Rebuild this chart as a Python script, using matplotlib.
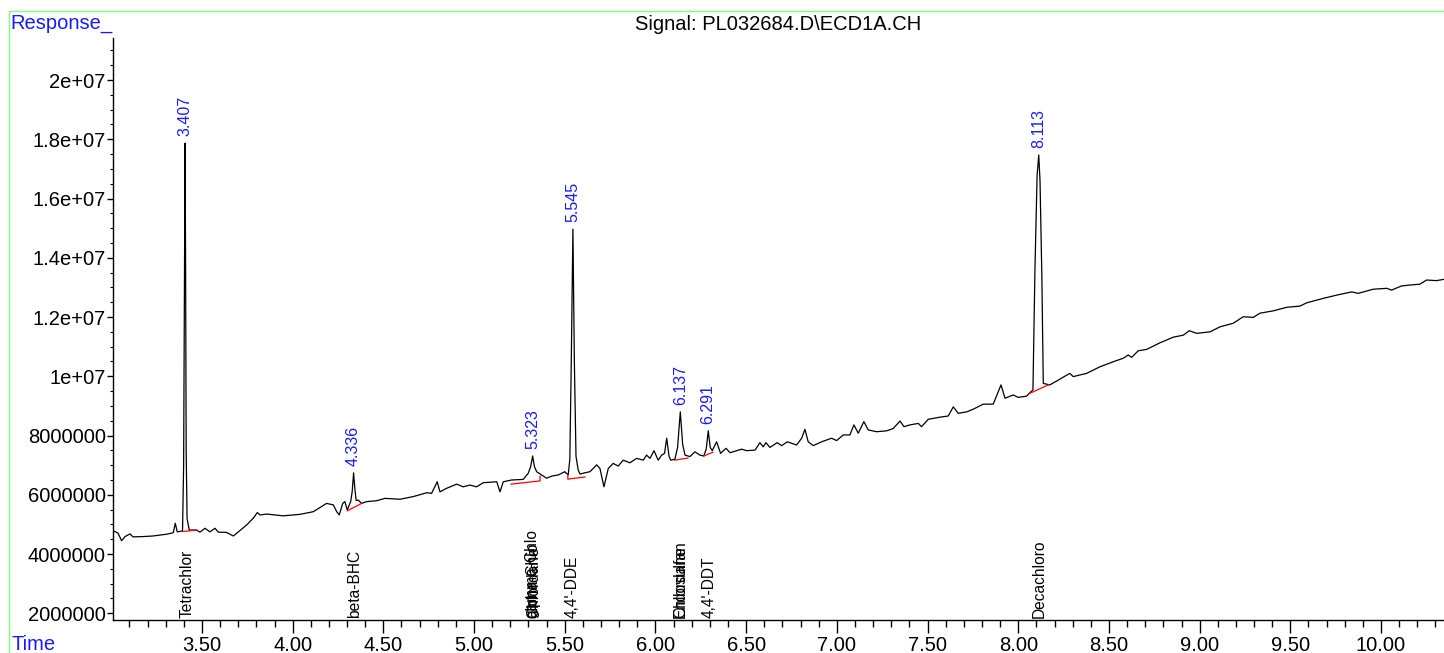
#!/usr/bin/env python3
"""
GC-ECD chromatogram: Signal PL032684.D\\ECD1A.CH
Trace, integration baselines, retention-time labels and compound names.
"""

import matplotlib
matplotlib.use("Agg")
import matplotlib.pyplot as plt
from matplotlib.lines import Line2D
from matplotlib.ticker import MultipleLocator, FuncFormatter
import matplotlib.transforms as mtransforms

plt.rcParams['font.family'] = ['Liberation Sans', 'DejaVu Sans']

# ---- data (time in min, response in counts / 1e6) ----
TIME = [
    3.008, 3.037, 3.057, 3.076, 3.103, 3.120, 3.175, 3.230, 3.305, 3.342,
    3.353, 3.364, 3.393, 3.399, 3.404, 3.407, 3.410, 3.413, 3.418, 3.430,
    3.471, 3.489, 3.517, 3.544, 3.572, 3.590, 3.636, 3.673, 3.691, 3.746,
    3.783, 3.805, 3.820, 3.857, 3.948, 4.040, 4.114, 4.187, 4.224, 4.243,
    4.257, 4.276, 4.288, 4.301, 4.320, 4.328, 4.336, 4.343, 4.350, 4.362,
    4.380, 4.408, 4.463, 4.509, 4.592, 4.665, 4.739, 4.766, 4.797, 4.812,
    4.849, 4.904, 4.940, 4.977, 5.014, 5.051, 5.125, 5.143, 5.161, 5.207,
    5.271, 5.299, 5.312, 5.323, 5.333, 5.345, 5.373, 5.400, 5.428, 5.464,
    5.500, 5.519, 5.528, 5.536, 5.545, 5.553, 5.562, 5.574, 5.584, 5.602,
    5.639, 5.676, 5.694, 5.716, 5.740, 5.767, 5.795, 5.822, 5.859, 5.896,
    5.933, 5.951, 5.970, 5.992, 6.015, 6.034, 6.050, 6.062, 6.075, 6.084,
    6.107, 6.122, 6.137, 6.150, 6.163, 6.190, 6.218, 6.245, 6.267, 6.280,
    6.291, 6.302, 6.313, 6.337, 6.359, 6.389, 6.411, 6.475, 6.503, 6.549,
    6.576, 6.594, 6.609, 6.631, 6.671, 6.696, 6.727, 6.778, 6.806, 6.824,
    6.842, 6.870, 6.916, 6.971, 6.999, 7.035, 7.072, 7.094, 7.118, 7.149,
    7.173, 7.219, 7.275, 7.311, 7.348, 7.370, 7.403, 7.449, 7.467, 7.504,
    7.568, 7.614, 7.642, 7.669, 7.716, 7.752, 7.807, 7.862, 7.905, 7.927,
    7.972, 8.000, 8.046, 8.065, 8.081, 8.092, 8.104, 8.113, 8.120, 8.130,
    8.138, 8.174, 8.220, 8.284, 8.303, 8.377, 8.450, 8.523, 8.579, 8.606,
    8.625, 8.661, 8.708, 8.781, 8.854, 8.910, 8.943, 8.983, 9.057, 9.112,
    9.185, 9.240, 9.296, 9.332, 9.406, 9.480, 9.553, 9.590, 9.681, 9.755,
    9.838, 9.874, 9.957, 10.031, 10.058, 10.113, 10.159, 10.214, 10.251, 10.306,
    10.343,
]
RESPONSE_M = [
    4.79, 4.71, 4.45, 4.59, 4.68, 4.58, 4.59, 4.61, 4.67, 4.72,
    5.04, 4.75, 4.78, 7.00, 14.00, 17.87, 13.50, 7.50, 5.20, 4.81,
    4.81, 4.74, 4.87, 4.75, 4.87, 4.74, 4.73, 4.61, 4.70, 4.98,
    5.21, 5.40, 5.32, 5.35, 5.29, 5.34, 5.43, 5.71, 5.66, 5.43,
    5.32, 5.71, 5.77, 5.49, 5.77, 6.10, 6.74, 6.20, 5.81, 5.82,
    5.71, 5.77, 5.80, 5.88, 5.85, 5.94, 6.07, 6.05, 6.44, 6.10,
    6.22, 6.36, 6.27, 6.33, 6.27, 6.41, 6.44, 6.10, 6.44, 6.50,
    6.52, 6.73, 6.95, 7.31, 6.95, 6.78, 6.67, 6.56, 6.63, 6.67,
    6.78, 6.67, 7.20, 10.50, 14.97, 10.50, 7.30, 6.84, 6.70, 6.73,
    6.78, 7.01, 6.89, 6.27, 6.89, 7.06, 6.97, 7.17, 7.08, 7.23,
    7.17, 7.34, 7.23, 7.49, 7.17, 7.34, 7.40, 7.91, 7.30, 7.17,
    7.20, 7.60, 8.80, 7.70, 7.34, 7.29, 7.45, 7.34, 7.31, 7.55,
    8.16, 7.60, 7.49, 7.79, 7.40, 7.57, 7.42, 7.54, 7.49, 7.51,
    7.76, 7.62, 7.76, 7.60, 7.76, 7.66, 7.79, 7.68, 7.91, 8.21,
    7.79, 7.66, 7.79, 7.91, 7.83, 8.02, 8.02, 8.36, 8.08, 8.47,
    8.19, 8.13, 8.16, 8.24, 8.49, 8.30, 8.36, 8.41, 8.30, 8.55,
    8.62, 8.66, 8.97, 8.75, 8.80, 8.89, 9.06, 9.06, 9.71, 9.26,
    9.37, 9.29, 9.33, 9.45, 9.54, 13.60, 16.80, 17.47, 16.60, 13.40,
    9.76, 9.71, 9.87, 10.10, 9.99, 10.10, 10.32, 10.49, 10.61, 10.72,
    10.64, 10.86, 10.91, 11.13, 11.32, 11.39, 11.54, 11.45, 11.50, 11.67,
    11.79, 12.01, 11.99, 12.13, 12.21, 12.33, 12.37, 12.48, 12.63, 12.74,
    12.85, 12.80, 12.94, 12.97, 12.91, 13.05, 13.08, 13.11, 13.25, 13.23,
    13.27,
]

# integrated peaks: retention time, apex response (1e6)
PEAK_RT = [3.407, 4.336, 5.323, 5.545, 6.137, 6.291, 8.113]
PEAK_APEX_M = [17.87, 6.74, 7.31, 14.97, 8.80, 8.16, 17.47]

# integration baselines (red): lists of (time, response 1e6) vertices
BASELINES = [
    [(3.393, 4.76), (3.471, 4.81)],
    [(4.301, 5.46), (4.380, 5.71)],
    [(5.204, 6.36), (5.364, 6.47), (5.364, 6.63)],
    [(5.517, 6.67), (5.517, 6.53), (5.611, 6.60)],
    [(6.107, 7.17), (6.179, 7.24)],
    [(6.267, 7.31), (6.317, 7.44)],
    [(8.065, 9.43), (8.166, 9.71)],
]

# compound names (truncated by the data system) and their expected times
COMPOUNDS = ["Tetrachlor", "beta-BHC", "gamma-Chlo", "alpha-Chlo", "Chlordane",
             "4,4'-DDE", "Endosulfan", "Chlordane", "4,4'-DDT", "Decachloro"]
COMPOUND_RT = [3.416, 4.341, 5.318, 5.323, 5.327, 5.543, 6.137, 6.142, 6.295, 8.117]

TITLE = "Signal: PL032684.D\\ECD1A.CH"

# ---- figure ----
W, H = 1444, 653
fig = plt.figure(figsize=(W / 100, H / 100), dpi=100)
ax = fig.add_axes([112.7 / W, 33 / H, 1 - 112.7 / W, (620 - 37.7) / H])

ax.plot(TIME, [r * 1e6 for r in RESPONSE_M], color='black', lw=0.9, zorder=3)

for seg in BASELINES:
    ax.plot([p[0] for p in seg], [p[1] * 1e6 for p in seg], color='red', lw=0.9, zorder=4)

for rt, apex in zip(PEAK_RT, PEAK_APEX_M):
    ax.annotate(f"{rt:.3f}", xy=(rt, apex * 1e6), xytext=(0, 5), textcoords='offset points',
                rotation=90, ha='center', va='bottom', color='#1a1aff', fontsize=11.5)

trans = mtransforms.blended_transform_factory(ax.transData, ax.transAxes)
for name, rt in zip(COMPOUNDS, COMPOUND_RT):
    ax.text(rt, 0.004, name, transform=trans, rotation=90, ha='center', va='bottom',
            color='black', fontsize=11.2)

ax.set_xlim(3.008, 10.347)
ax.set_ylim(1.774e6, 2.143e7)

ax.xaxis.set_major_locator(MultipleLocator(0.5))
ax.xaxis.set_minor_locator(MultipleLocator(0.1))
ax.xaxis.set_major_formatter(FuncFormatter(lambda v, p: f"{v:.2f}"))
ax.yaxis.set_major_locator(MultipleLocator(2e6))
ax.yaxis.set_minor_locator(MultipleLocator(5e5))
ax.yaxis.set_major_formatter(FuncFormatter(lambda v, p: f"{int(round(v))}" if v < 1e7 else f"{v:g}"))

ax.tick_params(axis='x', which='major', length=9.5, width=1.0, pad=2, labelsize=14.5)
ax.tick_params(axis='x', which='minor', length=5, width=1.0)
ax.tick_params(axis='y', which='major', length=4, width=1.0, pad=1, labelsize=14.5)
ax.tick_params(axis='y', which='minor', length=2, width=0.8)

for s in ['top', 'right']:
    ax.spines[s].set_visible(False)
for s in ['left', 'bottom']:
    ax.spines[s].set_linewidth(1.0)
    ax.spines[s].set_color('black')

# frame, headers
fig.add_artist(Line2D([9 / W, 9 / W, 1.0], [0.0, 1 - 10.7 / H, 1 - 10.7 / H],
                      transform=fig.transFigure, color='#80ff80', lw=1.0))
fig.text(10 / W, 1 - 23.5 / H, "Response_", color='#1a1aff', fontsize=14.5, ha='left', va='center')
fig.text(11 / W, 1 - 645 / H, "Time", color='#1a1aff', fontsize=14.5, ha='left', va='center')
fig.text(778.5 / W, 1 - 24 / H, TITLE, color='black', fontsize=14.5, ha='center', va='center')

fig.savefig("out.png", dpi=100)
